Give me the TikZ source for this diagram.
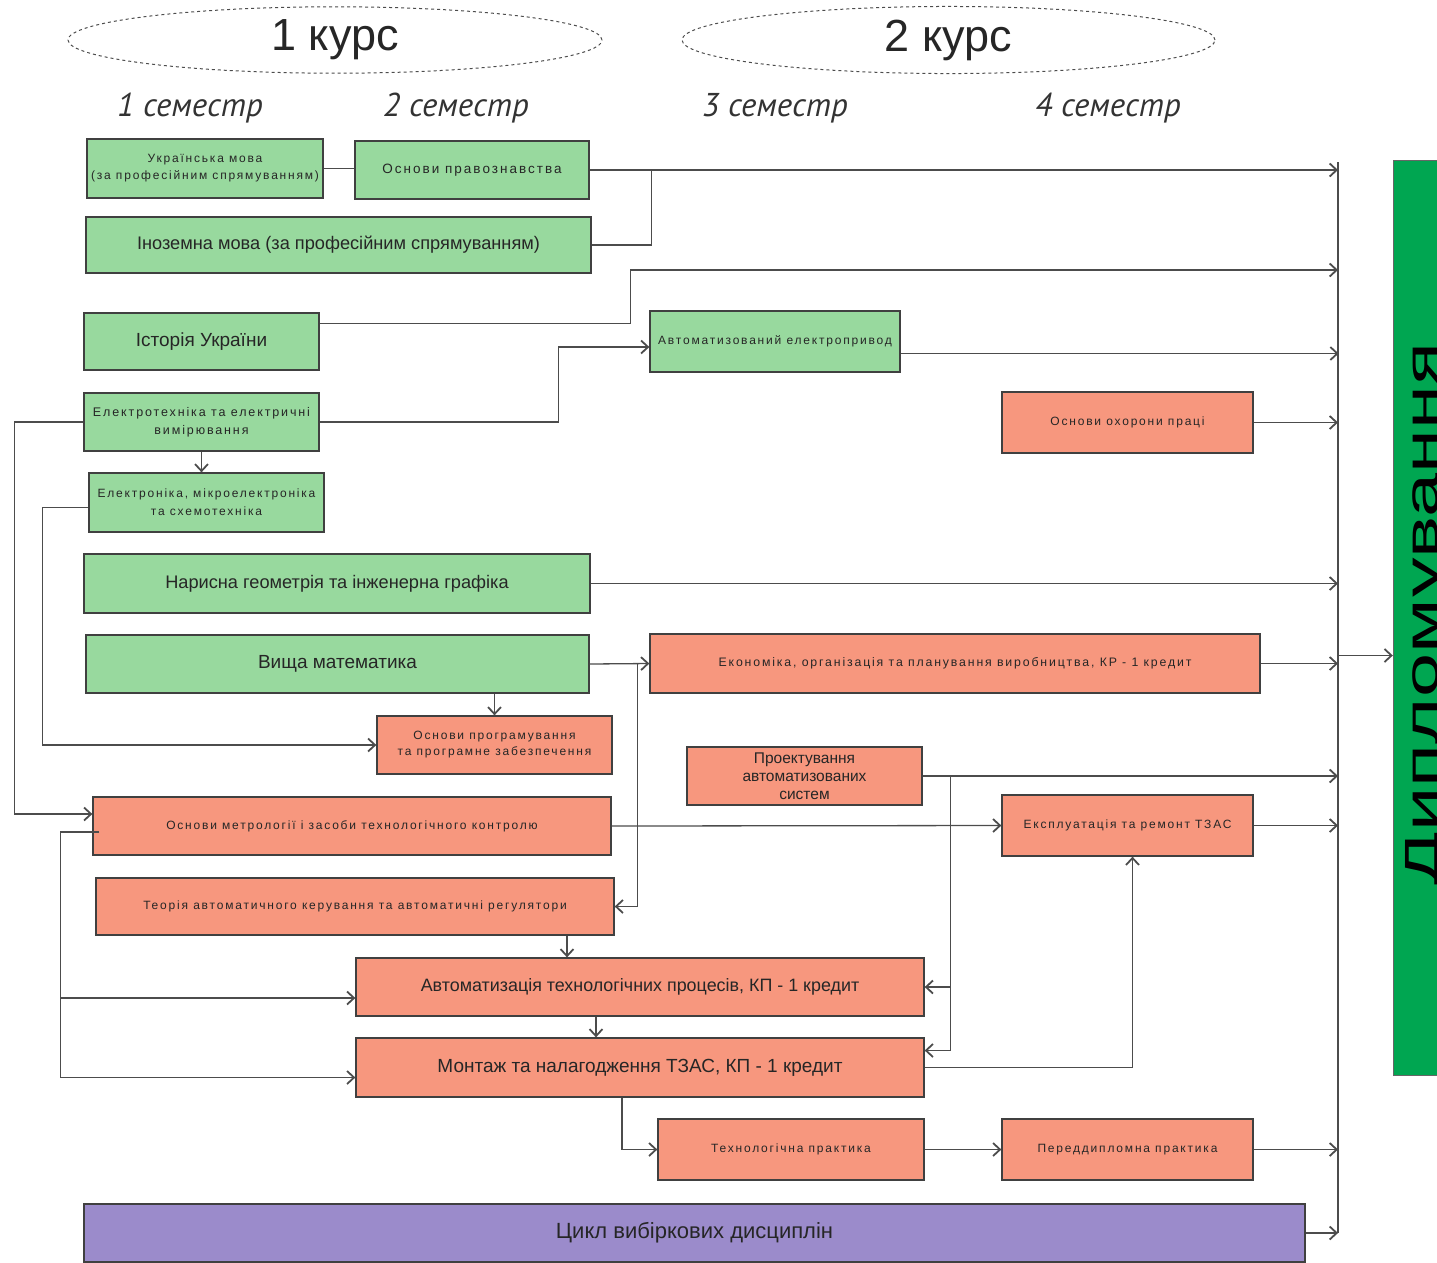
\documentclass[tikz,border=0pt]{standalone}
\usepackage{fontspec}
\usepackage{graphicx}
\setmainfont{Liberation Sans}
\newfontfamily\trk[LetterSpace=15]{Liberation Sans}
\newfontfamily\semf{PT Sans}
\usetikzlibrary{shapes.geometric, arrows.meta}

\definecolor{zel}{RGB}{152,217,158}
\definecolor{ros}{RGB}{247,151,126}
\definecolor{fio}{RGB}{155,139,203}
\definecolor{dypc}{RGB}{0,166,81}

\tikzset{
  box/.style={draw=black!75, line width=1.3pt, inner sep=2pt, align=center, text=black!85},
  gbox/.style={box, fill=zel},
  obox/.style={box, fill=ros},
  sm/.style={font=\trk\fontsize{12}{17}\selectfont},
  lg/.style={font=\fontsize{19}{22}\selectfont},
  con/.style={draw=black!70, line width=1.3pt},
  kurs/.style={ellipse, draw=black!70, dashed, line width=1pt, minimum height=62pt, text=black!85, font=\fontsize{45}{50}\selectfont},
  sem/.style={font=\semf\itshape\fontsize{33}{36}\selectfont, text=black!80},
}

\begin{document}
\begin{tikzpicture}[x=1pt, y=-1pt, >={Straight Barb[length=7pt,width=13pt,line width=1.8pt]}]

\useasboundingbox (0,0) rectangle (1437,1262);
\clip (0,0) rectangle (1437,1262);

% courses and semesters
\node[kurs, minimum width=534pt] (k1) at (335,40) {1 курс};
\node[kurs, minimum width=533pt] (k2) at (948.5,40) {2 курс};
\node[sem] (s1) at (190,108) {1 семестр};
\node[sem] (s2) at (456,108) {2 семестр};
\node[sem] (s3) at (775,108) {3 семестр};
\node[sem] (s4) at (1108,108) {4 семестр};

% first course
\node[gbox, sm, minimum width=236pt, minimum height=59pt] (ukr) at (205,168.5) {Українська мова\\(за професійним спрямуванням)};
\node[gbox, sm, font=\trk\fontsize{13.5}{16}\selectfont, minimum width=234pt, minimum height=58pt] (prav) at (472,170) {Основи правознавства};
\node[gbox, lg, font=\fontsize{18.2}{22}\selectfont, minimum width=505pt, minimum height=56pt] (inoz) at (338.5,245) {Іноземна мова (за професійним спрямуванням)};
\node[gbox, lg, minimum width=235pt, minimum height=57pt] (ist) at (201.5,341.5) {Історія України};
\node[gbox, sm, font=\trk\fontsize{12.5}{18}\selectfont, minimum width=235pt, minimum height=58pt] (elt) at (201.5,422) {Електротехніка та електричні\\вимірювання};
\node[gbox, sm, font=\trk\fontsize{12}{18}\selectfont, minimum width=235pt, minimum height=59pt] (eln) at (206.5,502.5) {Електроніка, мікроелектроніка\\та схемотехніка};
\node[gbox, lg, font=\fontsize{18.2}{22}\selectfont, minimum width=506pt, minimum height=59pt] (nar) at (337,583.5) {Нарисна геометрія та інженерна графіка};
\node[gbox, lg, minimum width=503pt, minimum height=58pt] (vm) at (337.5,664) {Вища математика};
\node[obox, sm, font=\trk\fontsize{12}{16}\selectfont, minimum width=235pt, minimum height=58pt] (prog) at (494.5,745) {Основи програмування\\та програмне забезпечення};
\node[obox, sm, minimum width=518pt, minimum height=58pt] (metr) at (352,826) {Основи метрології і засоби технологічного контролю};
\node[obox, sm, minimum width=518pt, minimum height=57pt] (teor) at (355,906.5) {Теорія автоматичного керування та автоматичні регулятори};

% second course
\node[gbox, sm, minimum width=250pt, minimum height=61pt] (aep) at (775,341.5) {Автоматизований електропривод};
\node[obox, sm, minimum width=251pt, minimum height=61pt] (ohp) at (1127.5,422.5) {Основи охорони праці};
\node[obox, sm, font=\trk\fontsize{12.3}{16}\selectfont, minimum width=610pt, minimum height=59pt] (ekon) at (955,663.5) {Економіка, організація та планування виробництва, КР - 1 кредит};
\node[obox, font=\fontsize{15.5}{18}\selectfont, minimum width=235pt, minimum height=58pt] (proekt) at (804.5,776) {Проектування\\автоматизованих\\систем};
\node[obox, sm, minimum width=251pt, minimum height=61pt] (ekspl) at (1127.5,825.5) {Експлуатація та ремонт ТЗАС};
\node[obox, lg, font=\fontsize{17.9}{22}\selectfont, minimum width=568pt, minimum height=58pt] (avt) at (640,987) {Автоматизація технологічних процесів, КП - 1 кредит};
\node[obox, lg, minimum width=568pt, minimum height=59pt] (mont) at (640,1067.5) {Монтаж та налагодження ТЗАС, КП - 1 кредит};
\node[obox, sm, minimum width=266pt, minimum height=61pt] (tekh) at (791,1149.5) {Технологічна практика};
\node[obox, sm, minimum width=251pt, minimum height=61pt] (pered) at (1127.5,1149.5) {Переддипломна практика};
\node[box, fill=fio, font=\fontsize{22}{26}\selectfont, minimum width=1221pt, minimum height=58pt] (tsykl) at (694.5,1233) {Цикл вибіркових дисциплін};

% diploma
\node[draw=black!60, fill=dypc, minimum width=80pt, minimum height=915pt, inner sep=0pt] (dyp) at (1433,617.5) {};
\node[rotate=90, anchor=base, inner sep=0pt, font=\fontsize{48}{50}\selectfont] (dyptxt) at (1438,614) {\scalebox{1.65}[1]{Дипломування}};

\coordinate (bus) at (1338,162);
\coordinate (in2) at (1338,270);
\draw[con] (bus) -- (bus |- tsykl.east);

% links
\draw[con] (ukr.east) -- (prav.west |- ukr.east);
\draw[con,->] (prav.east) -- (prav.east -| bus);
\draw[con] (inoz.east) -| ([xshift=62pt]prav.east);
\draw[con,->] ([yshift=18pt]ist.east) -- ++(311,0) |- (in2);
\draw[con,->] (elt.east) -- ++(239,0) |- ([yshift=-5.5pt]aep.west);
\draw[con,->] ([yshift=-12pt]aep.east) -- ++(438,0);
\draw[con,->] (elt.south) -- (elt.south |- eln.north);
\draw[con,->] (elt.west) -| ([xshift=-78pt,yshift=12pt]metr.west) -- ([yshift=12pt]metr.west);
\draw[con,->] ([yshift=-5pt]eln.west) -| ([xshift=-334pt]prog.west) -- (prog.west);
\draw[con,->] (ohp.east) -- (ohp.east -| bus);
\draw[con,->] (nar.east) -- (nar.east -| bus);
\draw[con,->] (vm.east) -- (ekon.west);
\draw[con,->] ([xshift=48pt]vm.east) |- (teor.east);
\draw[con,->] (prog.north |- vm.south) -- (prog.north);
\draw[con,->] (ekon.east) -- (ekon.east -| bus);
\draw[con,->] (proekt.east) -- (proekt.east -| bus);
\draw[con,->] ([xshift=28pt]proekt.east) |- ([yshift=17pt]mont.east);
\draw[con,->] ([xshift=26pt]avt.east) -- (avt.east);
\draw[con,->] (metr.east) -- (ekspl.west);
\draw[con,->] ([xshift=7pt,yshift=-6pt]metr.west) -| ([xshift=-295pt,yshift=-10pt]mont.west) -- ([yshift=-10pt]mont.west);
\draw[con,->] ([xshift=-295pt,yshift=-11pt]avt.west) -- ([yshift=-11pt]avt.west);
\draw[con,->] (ekspl.east) -- (ekspl.east -| bus);
\draw[con,->] ([xshift=212pt]teor.south) -- ([xshift=-73pt]avt.north);
\draw[con,->] ([xshift=-44pt]avt.south) -- ([xshift=-44pt]mont.north);
\draw[con,->] (mont.east) -| ([xshift=5pt]ekspl.south);
\draw[con,->] ([xshift=-18pt]mont.south) |- (tekh.west);
\draw[con,->] (tekh.east) -- (pered.west);
\draw[con,->] (pered.east) -- (pered.east -| bus);
\draw[con,->] (tsykl.east) -- (tsykl.east -| bus);
\draw[con,->] ([xshift=-55pt,yshift=-38pt]dyp.west) -- ([yshift=-38pt]dyp.west);

\end{tikzpicture}
\end{document}
